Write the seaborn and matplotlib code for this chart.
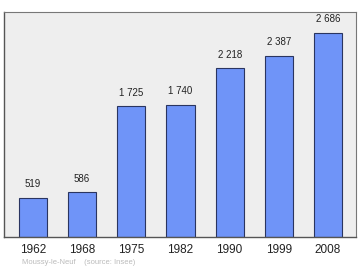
import matplotlib
matplotlib.use("Agg")
import matplotlib.pyplot as plt
import seaborn as sns
import pandas as pd

years = ["1962", "1968", "1975", "1982", "1990", "1999", "2008"]
population = [519, 586, 1725, 1740, 2218, 2387, 2686]
value_labels = ["519", "586", "1 725", "1 740", "2 218", "2 387", "2 686"]
source_text = "Moussy-le-Neuf    (source: Insee)"

df = pd.DataFrame({"year": years, "pop": population})

sns.set_style("white")
plt.rcParams['font.family'] = ['Liberation Sans', 'DejaVu Sans']

fig = plt.figure(figsize=(3.6, 2.7), dpi=100)
ax = fig.add_axes([4/360, 1 - 237/270, 352/360, 225/270])
ax.set_facecolor("#eeeeee")

sns.barplot(data=df, x="year", y="pop", ax=ax, color="#6f94f8",
            width=0.57, edgecolor="#2a3560", linewidth=0.8, saturation=1)

for i, (v, lab) in enumerate(zip(population, value_labels)):
    ax.text(i, v + 110, lab, ha="center", va="bottom", fontsize=7, color="#222222")

ax.set_xlim(-0.59, 6.57)
ax.set_ylim(0, 2960)
ax.set_yticks([])
ax.set_xlabel("")
ax.set_ylabel("")
ax.tick_params(axis="x", length=0, pad=5, labelsize=8.5, colors="#222222")
for side in ["left", "bottom"]:
    ax.spines[side].set_color("#555555")
    ax.spines[side].set_linewidth(1.0)
for side in ["top", "right"]:
    ax.spines[side].set_color("#777777")
    ax.spines[side].set_linewidth(0.8)

fig.text(22/360, 1 - 262/270, source_text, fontsize=5.5, color="#bbbbbb",
         ha="left", va="center")

fig.savefig("out.png", dpi=100)
